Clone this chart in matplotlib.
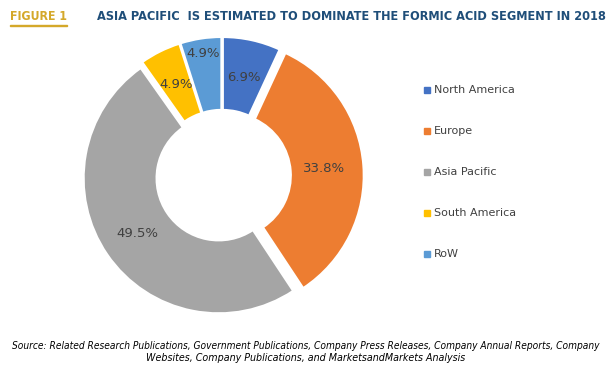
import matplotlib
matplotlib.use("Agg")
import matplotlib.pyplot as plt
import numpy as np
from matplotlib import font_manager

categories = ["North America", "Europe", "Asia Pacific", "South America", "RoW"]
values = [6.9, 33.8, 49.5, 4.9, 4.9]
colors = ["#4472C4", "#ED7D31", "#A5A5A5", "#FFC000", "#5B9BD5"]
label_radius = [0.75, 0.76, 0.76, 0.76, 0.92]


def is_condensed(f):
    s = f.stretch if isinstance(f.stretch, int) else font_manager.stretch_dict.get(f.stretch, 500)
    return s <= 300 or "Narrow" in f.name or "Condensed" in f.name or "ondensed" in f.fname


def weight_num(f):
    w = f.weight
    return w if isinstance(w, int) else font_manager.weight_dict.get(w, 400)


def find_cond(bold, italic):
    best = None
    for f in font_manager.fontManager.ttflist:
        if not is_condensed(f):
            continue
        ok_w = (weight_num(f) >= 600) == bold
        ok_s = (f.style in ("italic", "oblique")) == italic
        if ok_w and ok_s:
            return f.fname
        if ok_w and best is None:
            best = f.fname
    return best


fig = plt.figure(figsize=(6.12, 3.76), dpi=100)
W, H = 612, 376
renderer = fig.canvas.get_renderer()


def fit_text(x, y, s, width_px, **kw):
    t = fig.text(x / W, 1 - y / H, s, **kw)
    w = t.get_window_extent(renderer).width
    t.set_fontsize(t.get_fontsize() * width_px / w)
    return t


tb = find_cond(True, False)
title_kw = dict(fontproperties=font_manager.FontProperties(fname=tb)) if tb else dict(family="Roboto", fontweight="bold")
si = find_cond(False, True)
if si:
    src_kw = dict(fontproperties=font_manager.FontProperties(fname=si))
else:
    src_kw = dict(family="Roboto", style="italic")

cx, cy, r = 222, 176, 135
ax = fig.add_axes([(cx - r) / W, (H - cy - r) / H, 2 * r / W, 2 * r / H])
wedges, texts = ax.pie(values, colors=colors, startangle=90, counterclock=False,
                       radius=1.0, explode=[0.03, 0.05, 0.03, 0.03, 0.03],
                       wedgeprops=dict(width=0.54, edgecolor="white", linewidth=1.5))
ang = 90.0
for v, rr in zip(values, label_radius):
    theta = np.deg2rad(ang - v / 100 * 360 / 2)
    ang -= v / 100 * 360
    ax.text(rr * np.cos(theta), rr * np.sin(theta), f"{v}%", ha="center", va="center",
            fontsize=9.5, color="#404040", clip_on=False)
ax.set_xlim(-1.0, 1.0)
ax.set_ylim(-1.0, 1.0)
ax.set_aspect("equal")
ax.axis("off")

# legend
ys = [90, 131, 172, 213, 254]
for c, lab, y in zip(colors, categories, ys):
    fig.patches.append(plt.Rectangle((424 / W, 1 - (y + 3) / H), 6 / W, 6 / H,
                                     transform=fig.transFigure, color=c))
    fig.text(434 / W, 1 - y / H, lab, ha="left", va="center", fontsize=8, color="#404040")

# title
fit_text(10, 16, "FIGURE 1", 57, fontsize=11, color="#D4A82A", va="center", ha="left", **title_kw)
fig.patches.append(plt.Rectangle((10 / W, 1 - 26 / H), 57 / W, 1.2 / H,
                                 transform=fig.transFigure, color="#D4A82A"))
fit_text(97, 16, "ASIA PACIFIC  IS ESTIMATED TO DOMINATE THE FORMIC ACID SEGMENT IN 2018", 510,
         fontsize=11, color="#1F4E79", va="center", ha="left", **title_kw)

# source
fit_text(306, 346,
         "Source: Related Research Publications, Government Publications, Company Press Releases, Company Annual Reports, Company",
         587, fontsize=7.5, ha="center", va="center", color="#000000", **src_kw)
fit_text(306, 358,
         "Websites, Company Publications, and MarketsandMarkets Analysis",
         320, fontsize=7.5, ha="center", va="center", color="#000000", **src_kw)

fig.savefig("out.png", dpi=100)
